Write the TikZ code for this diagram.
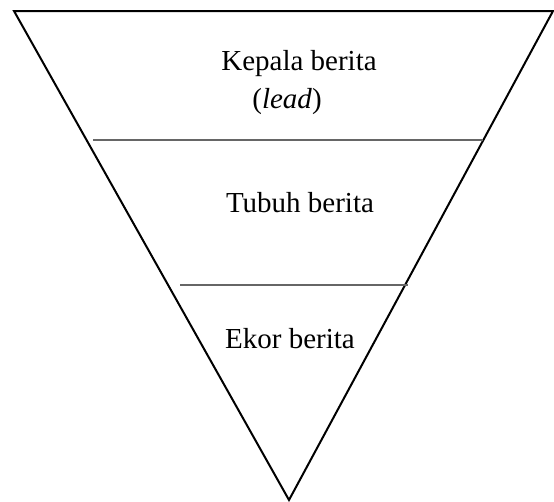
\documentclass[tikz,border=0pt]{standalone}
\usepackage{fontspec}
\setmainfont{Liberation Serif}
\usepackage{tikz}

\begin{document}
\begin{tikzpicture}[x=1pt, y=-1pt, thick]
		\tikzset{label text/.style={anchor=base, inner sep=0pt, font=\fontsize{29}{34}\selectfont}}
		\useasboundingbox (0,0) rectangle (554,501);
		% corners of the pyramid
		\coordinate (TL) at (14,11);
		\coordinate (TR) at (553,11);
		\coordinate (B) at (289,500);
		\draw[black, line width=2pt, line join=miter] (TL) -- (TR) -- (B) -- cycle;
		
		% section lines
		\coordinate (l1a) at (93,140);
		\coordinate (l1b) at (483,140);
		\draw[color=black!60, line width=1.5pt] (l1a) -- (l1b);
		\coordinate (l2a) at (180,285);
		\coordinate (l2b) at (408,285);
		\draw[color=black!60, line width=1.5pt] (l2a) -- (l2b);
		
		\node (kepala) [label text] at (299,70) {Kepala berita};
		\node (lead) [label text] at (287,108) {(\textit{lead})};
		\node (tubuh) [label text] at (300,212) {Tubuh berita};
		\node (ekor) [label text] at (290,348) {Ekor berita};
	\end{tikzpicture}
\end{document}
